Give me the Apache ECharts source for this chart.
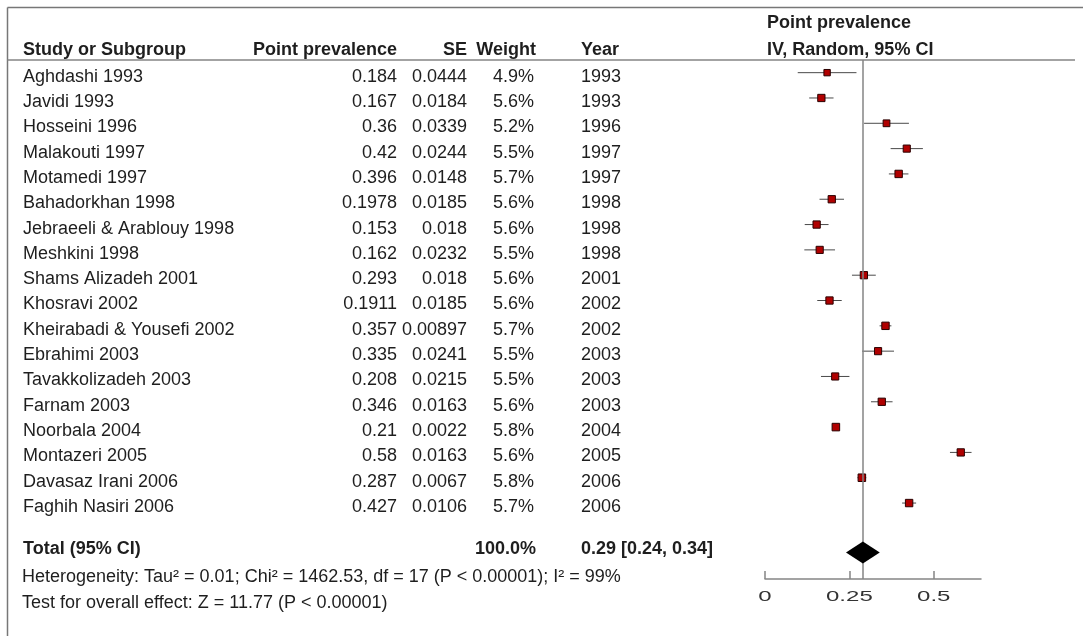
<!DOCTYPE html>
<html>
<head>
<meta charset="utf-8">
<script src="https://cdn.jsdelivr.net/npm/echarts@6/dist/echarts.min.js"></script>
<style>
html, body { margin: 0; padding: 0; background: #fff; }
#chart { width: 1083px; height: 636px; }
</style>
</head>
<body>
<div id="chart"></div>
<script>
// study rows
const studies = ['Aghdashi 1993', 'Javidi 1993', 'Hosseini 1996', 'Malakouti 1997', 'Motamedi 1997',
  'Bahadorkhan 1998', 'Jebraeeli & Arablouy 1998', 'Meshkini 1998', 'Shams Alizadeh 2001', 'Khosravi 2002',
  'Kheirabadi & Yousefi 2002', 'Ebrahimi 2003', 'Tavakkolizadeh 2003', 'Farnam 2003', 'Noorbala 2004',
  'Montazeri 2005', 'Davasaz Irani 2006', 'Faghih Nasiri 2006']
const prevalence = [0.184, 0.167, 0.36, 0.42, 0.396, 0.1978, 0.153, 0.162, 0.293, 0.1911,
  0.357, 0.335, 0.208, 0.346, 0.21, 0.58, 0.287, 0.427]
const stdErr = [0.0444, 0.0184, 0.0339, 0.0244, 0.0148, 0.0185, 0.018, 0.0232, 0.018, 0.0185,
  0.00897, 0.0241, 0.0215, 0.0163, 0.0022, 0.0163, 0.0067, 0.0106]
const weights = [4.9, 5.6, 5.2, 5.5, 5.7, 5.6, 5.6, 5.5, 5.6, 5.6, 5.7, 5.5, 5.5, 5.6, 5.8, 5.6, 5.8, 5.7]
const years = [1993, 1993, 1996, 1997, 1997, 1998, 1998, 1998, 2001, 2002, 2002, 2003, 2003, 2003,
  2004, 2005, 2006, 2006]

// pooled estimate [estimate, low, high]
const pooled = [0.29, 0.24, 0.34]
const totalWeight = '100.0%'
const totalText = '0.29 [0.24, 0.34]'
const heterogeneity = 'Heterogeneity: Tau² = 0.01; Chi² = 1462.53, df = 17 (P < 0.00001); I² = 99%'
const overallTest = 'Test for overall effect: Z = 11.77 (P < 0.00001)'

// x axis ticks
const tickValues = [0, 0.25, 0.5]
const tickLabels = ['0', '0.25', '0.5']

const FONT = '"Liberation Sans", Arial, sans-serif'
const reg = '18px ' + FONT
const bold = 'bold 18px ' + FONT
const ink = '#1e1e1e'
const yMax = 20
const totalRow = studies.length + 0.95

function txt(text, x, y, align, font) {
  return {
    type: 'text', x: x, y: y,
    style: { text: text, font: font || reg, fill: ink, align: align, textAlign: align,
      verticalAlign: 'middle', textVerticalAlign: 'middle' }
  }
}

let chart = echarts.init(document.getElementById('chart'))
chart.setOption({
  animation: false,
  backgroundColor: '#fff',
  grid: { left: 765, right: 102, top: 60, bottom: 57 },
  xAxis: {
    type: 'value', min: 0, max: 0.64,
    axisLine: { show: true, onZero: false, lineStyle: { color: '#858585', width: 1.5 } },
    axisTick: { show: true, inside: true, length: 8, customValues: tickValues,
      lineStyle: { color: '#858585', width: 1.5 } },
    axisLabel: { show: false },
    splitLine: { show: false }
  },
  yAxis: { type: 'value', inverse: true, min: -0.5, max: yMax, show: false },
  graphic: [
    { type: 'line', shape: { x1: 7.5, y1: 7.5, x2: 1083, y2: 7.5 }, style: { stroke: '#777', lineWidth: 1.5 } },
    { type: 'line', shape: { x1: 7.5, y1: 7.5, x2: 7.5, y2: 636 }, style: { stroke: '#777', lineWidth: 1.5 } },
    { type: 'line', shape: { x1: 7.5, y1: 60, x2: 1075, y2: 60 }, style: { stroke: '#858585', lineWidth: 1.5 } },
    txt('Point prevalence', 767, 23, 'left', bold),
    txt('Study or Subgroup', 23, 50, 'left', bold),
    txt('Point prevalence', 397, 50, 'right', bold),
    txt('SE', 467, 50, 'right', bold),
    txt('Weight', 536, 50, 'right', bold),
    txt('Year', 581, 50, 'left', bold),
    txt('IV, Random, 95% CI', 767, 50, 'left', bold),
    txt(heterogeneity, 22, 577, 'left'),
    txt(overallTest, 22, 603, 'left')
  ],
  series: [
    {
      // table columns
      type: 'custom', clip: false, silent: true,
      data: studies.map((s, i) => [prevalence[i], i]),
      renderItem: function (params, api) {
        let i = params.dataIndex
        let y = api.coord([0, i])[1] + 4
        return {
          type: 'group',
          children: [
            txt(studies[i], 23, y, 'left'),
            txt(String(prevalence[i]), 397, y, 'right'),
            txt(String(stdErr[i]), 467, y, 'right'),
            txt(weights[i].toFixed(1) + '%', 534, y, 'right'),
            txt(String(years[i]), 581, y, 'left')
          ]
        }
      }
    },
    {
      // study CI + weighted square
      type: 'custom', clip: false, silent: true,
      data: studies.map((s, i) => [prevalence[i], prevalence[i] - 1.96 * stdErr[i], prevalence[i] + 1.96 * stdErr[i], i, weights[i]]),
      renderItem: function (params, api) {
        let row = api.value(3)
        let c = api.coord([api.value(0), row])
        let lo = api.coord([api.value(1), row])
        let hi = api.coord([api.value(2), row])
        let s = api.value(4) * 1.3
        return {
          type: 'group',
          children: [
            { type: 'line', shape: { x1: lo[0], y1: lo[1], x2: hi[0], y2: hi[1] }, style: { stroke: '#4a4a4a', lineWidth: 1 } },
            { type: 'rect', shape: { x: c[0] - s / 2, y: c[1] - s / 2, width: s, height: s },
              style: { fill: '#b00000', stroke: '#2a0000', lineWidth: 1 } }
          ]
        }
      },
      markLine: {
        silent: true, symbol: 'none', label: { show: false },
        lineStyle: { color: '#858585', width: 1.5, type: 'solid' },
        data: [{ xAxis: pooled[0] }]
      }
    },
    {
      // pooled diamond + total row
      type: 'custom', clip: false, silent: true, z: 10,
      data: [[pooled[0], pooled[1], pooled[2], totalRow]],
      renderItem: function (params, api) {
        let row = api.value(3)
        let c = api.coord([api.value(0), row])
        let lo = api.coord([api.value(1), row])
        let hi = api.coord([api.value(2), row])
        let h = 11
        return {
          type: 'group',
          children: [
            { type: 'polygon', shape: { points: [[lo[0], c[1]], [c[0], c[1] - h], [hi[0], c[1]], [c[0], c[1] + h]] },
              style: { fill: '#000' } },
            txt('Total (95% CI)', 23, c[1] - 3, 'left', bold),
            txt(totalWeight, 536, c[1] - 3, 'right', bold),
            txt(totalText, 581, c[1] - 3, 'left', bold)
          ]
        }
      }
    },
    {
      // stretched tick labels under the axis
      type: 'custom', clip: false, silent: true,
      data: tickValues.map(v => [v, yMax]),
      renderItem: function (params, api) {
        let p = api.coord([api.value(0), api.value(1)])
        let t = txt(tickLabels[params.dataIndex], p[0], p[1] + 18, 'center', '15px ' + FONT)
        t.scaleX = 1.6
        t.style.fill = '#333'
        return t
      }
    }
  ]
})
window.addEventListener('resize', () => {
  chart.resize()
})
</script>
</body>
</html>
